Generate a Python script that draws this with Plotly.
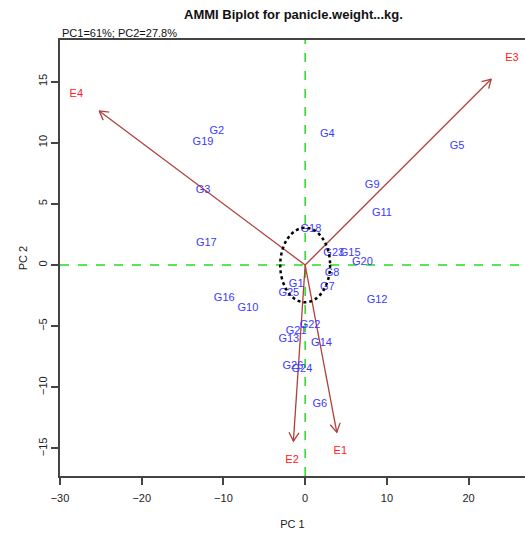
import math
import plotly.graph_objects as go

# ---- data ----
genotypes = ["G2", "G19", "G4", "G5", "G9", "G3", "G11", "G18", "G23", "G15",
             "G20", "G17", "G8", "G7", "G1", "G25", "G12", "G16", "G10", "G22",
             "G21", "G13", "G14", "G26", "G24", "G6"]
gen_pc1 = [-10.8, -12.5, 2.7, 18.6, 8.2, -12.5, 9.4, 0.7, 3.5, 5.5,
           7.0, -12.1, 3.3, 2.7, -1.1, -2.0, 8.8, -9.9, -7.0, 0.6,
           -1.1, -2.0, 2.0, -1.5, -0.4, 1.8]
gen_pc2 = [10.9, 10.0, 10.7, 9.7, 6.5, 6.1, 4.2, 2.9, 1.0, 1.0,
           0.25, 1.8, -0.7, -1.8, -1.55, -2.3, -2.9, -2.7, -3.5, -4.9,
           -5.4, -6.05, -6.4, -8.3, -8.5, -11.4]
environments = ["E1", "E2", "E3", "E4"]
env_pc1 = [4.3, -1.6, 25.3, -28.0]
env_pc2 = [-15.2, -16.0, 16.9, 14.0]

title = "AMMI Biplot for panicle.weight...kg."
subtitle = "PC1=61%; PC2=27.8%"

xrange_ = [-30, 26.9]
yrange_ = [-17.25, 18.4]

W, H = 525, 533
ml, mr, mt, mb = 60, 0, 40, 57
sx = (W - ml - mr) / (xrange_[1] - xrange_[0])
sy = (H - mt - mb) / (yrange_[1] - yrange_[0])

fig = go.Figure()

# reference lines
fig.add_shape(type="line", x0=0, x1=0, y0=yrange_[0], y1=yrange_[1],
              line=dict(color="#22dd22", width=1.5, dash="dash"), layer="below")
fig.add_shape(type="line", x0=xrange_[0], x1=xrange_[1], y0=0, y1=0,
              line=dict(color="#22dd22", width=1.5, dash="dash"), layer="below")

# circle
r = 3.05
fig.add_shape(type="circle", x0=-r, x1=r, y0=-r, y1=r,
              line=dict(color="black", width=2.5, dash="dot"))

# environment arrows
arrow_col = "#B0403A"
for name, x, y in zip(environments, env_pc1, env_pc2):
    tx, ty = 0.9 * x, 0.9 * y
    ang = math.atan2(ty * sy, tx * sx)
    L = 10
    hx, hy = [], []
    for d in (math.radians(150), math.radians(-150)):
        a = ang + d
        hx.append(tx + L * math.cos(a) / sx)
        hy.append(ty + L * math.sin(a) / sy)
    fig.add_trace(go.Scatter(
        x=[0, tx, None, hx[0], tx, hx[1]],
        y=[0, ty, None, hy[0], ty, hy[1]],
        mode="lines", line=dict(color=arrow_col, width=1.3),
        hoverinfo="skip", showlegend=False))

fig.add_trace(go.Scatter(x=env_pc1, y=env_pc2, mode="text", text=environments,
                         textfont=dict(color="#ff2020", size=11,
                                       family="Liberation Sans, Arial"),
                         showlegend=False, cliponaxis=False))
fig.add_trace(go.Scatter(x=gen_pc1, y=gen_pc2, mode="text", text=genotypes,
                         textfont=dict(color="#3a3aff", size=11,
                                       family="Liberation Sans, Arial"),
                         showlegend=False))

axis_common = dict(showgrid=False, zeroline=False, showline=True, mirror=True,
                   linecolor="#444", linewidth=1.5, ticks="outside", ticklen=7,
                   tickcolor="#444", tickwidth=1.5, automargin=False,
                   tickfont=dict(size=11, color="#222", family="Liberation Sans, Arial"))

fig.update_layout(
    width=W, height=H,
    margin=dict(l=ml, r=mr, t=mt, b=mb, autoexpand=False),
    plot_bgcolor="white", paper_bgcolor="white",
    xaxis=dict(range=xrange_, tickvals=[-30, -20, -10, 0, 10, 20],
               ticklabelstandoff=4,
               title=dict(text="PC 1", standoff=17,
                          font=dict(size=11, color="#222", family="Liberation Sans, Arial")),
               **axis_common),
    yaxis=dict(range=yrange_, tickvals=[-15, -10, -5, 0, 5, 10, 15], tickangle=-90,
               title=dict(text="PC 2", standoff=7,
                          font=dict(size=11, color="#222", family="Liberation Sans, Arial")),
               **axis_common),
    annotations=[
        dict(text="<b>" + title + "</b>", x=293, y=H - 15, xref="paper", yref="paper",
             yanchor="middle", showarrow=False,
             font=dict(size=13, color="#111", family="Liberation Sans, Arial")),
        dict(text=subtitle, x=60, y=H - 33, xref="paper", yref="paper",
             xanchor="left", yanchor="middle", showarrow=False,
             font=dict(size=11, color="#111", family="Liberation Sans, Arial")),
    ],
)

# convert pixel-based annotation positions to paper coordinates
pw = W - ml - mr
ph = H - mt - mb
for ann in fig.layout.annotations:
    px, py = ann.x, ann.y
    ann.x = (px - ml) / pw
    ann.y = (py - mb) / ph

fig.write_html("out.html", config={"displayModeBar": False},
               post_script="document.body.style.margin='0';document.body.style.overflow='hidden';")
